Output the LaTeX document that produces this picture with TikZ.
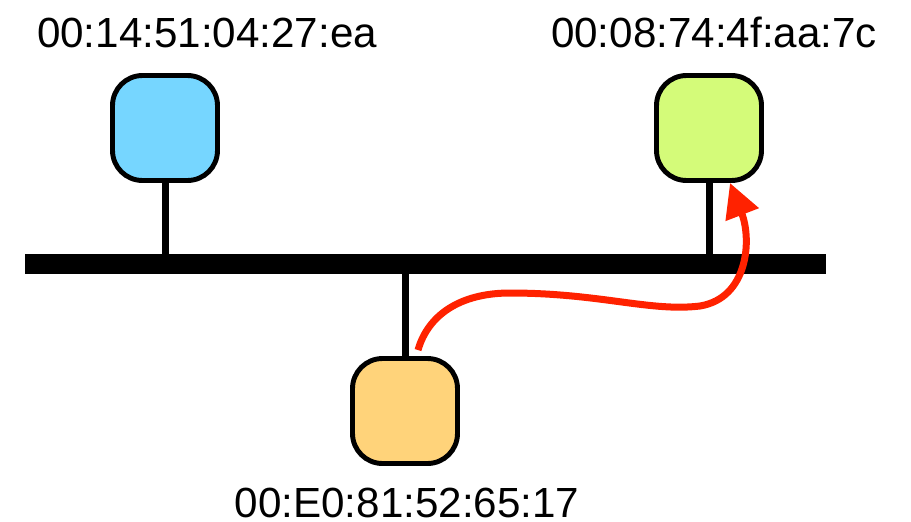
\documentclass[tikz,border=0pt]{standalone}
\usepackage{fontspec}
\setmainfont{Liberation Sans}
\usetikzlibrary{arrows.meta, positioning}

\definecolor{hostblue}{RGB}{118,214,255}
\definecolor{hostgreen}{RGB}{212,251,121}
\definecolor{hostorange}{RGB}{255,211,122}
\definecolor{framered}{RGB}{255,34,0}

\begin{document}
\begin{tikzpicture}[
    x=0.02cm, y=-0.02cm,
    host/.style={
        rectangle, draw, line width=2.8pt, rounded corners=0.6cm,
        minimum width=2.1cm, minimum height=2.1cm, inner sep=0pt
    },
    mac/.style={anchor=base, inner sep=0pt, font=\fontsize{24}{29}\selectfont},
    bus/.style={line width=0.4cm},
    stem/.style={line width=0.14cm},
    frame/.style={-{Triangle[length=0.68cm, width=0.68cm]}, line width=0.14cm, framered},
]
\useasboundingbox (0,0) rectangle (911,521);

% shared segment
\coordinate (busW) at (25,264);
\coordinate (busE) at (826,264);
\draw[bus] (busW) -- (busE);

% stations
\node[host, fill=hostblue]   (hostA) at (165,128) {};
\node[host, fill=hostgreen]  (hostB) at (709,128) {};
\node[host, fill=hostorange] (hostC) at (405,411) {};

\node[mac] (macA) at (207,47)  {00:14:51:04:27:ea};
\node[mac] (macB) at (714,47)  {00:08:74:4f:aa:7c};
\node[mac] (macC) at (407,517) {00:E0:81:52:65:17};

\draw[stem] (hostA) -- (hostA |- busW);
\draw[stem] (hostB) -- (hostB |- busW);
\draw[stem] (hostC) -- (hostC |- busE);

% frame sent from C to B
\draw[frame] ([shift={(13,-6)}]hostC.north)
    .. controls +(10,-35) and +(-50,0) .. (510,293)
    .. controls +(90,0) and +(-50,6) .. (700,306)
    .. controls +(48,-8) and +(22,57) .. ([shift={(21,0)}]hostB.south);

\end{tikzpicture}
\end{document}
